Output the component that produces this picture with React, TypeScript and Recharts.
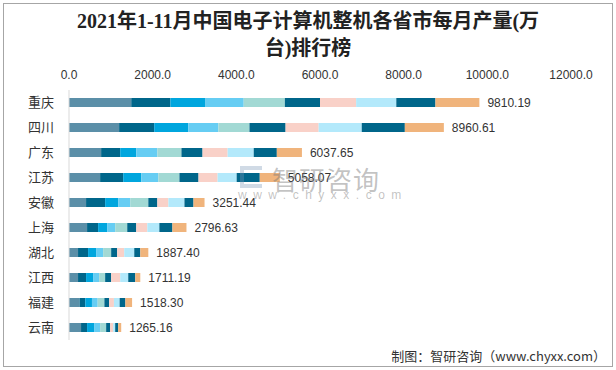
import React from "react";
import { BarChart, Bar, XAxis, YAxis } from "recharts";

// provinces, top to bottom
const provinces = ["重庆", "四川", "广东", "江苏", "安徽", "上海", "湖北", "江西", "福建", "云南"];

// monthly output (万台)
const m1to2 = [1488, 1198, 768, 744, 408, 432, 216, 216, 252, 288];
const m3 = [936, 839, 456, 552, 456, 264, 240, 192, 137, 144];
const m4 = [840, 815, 384, 432, 312, 216, 192, 168, 160, 168];
const m5 = [912, 719, 504, 408, 288, 192, 168, 144, 137, 144];
const m6 = [984, 743, 576, 504, 432, 288, 192, 144, 160, 144];
const m7 = [840, 863, 504, 456, 216, 216, 144, 144, 114, 96];
const m8 = [864, 791, 600, 456, 264, 264, 168, 216, 114, 72];
const m9 = [960, 1030, 624, 456, 384, 288, 240, 192, 137, 48];
const m10 = [936, 1030, 552, 552, 216, 312, 144, 168, 137, 72];
const m11 = [1050, 933, 600, 480, 264, 336, 192, 120, 160, 72];

// totals printed at the end of each bar
const totals = ["9810.19", "8960.61", "6037.65", "5058.07", "3251.44", "2796.63", "1887.40", "1711.19", "1518.30", "1265.16"];

const xTicks = [0, 2000, 4000, 6000, 8000, 10000, 12000];

const series = [m1to2, m3, m4, m5, m6, m7, m8, m9, m10, m11];
const colors = ["#5b8fa8", "#00668a", "#00a6de", "#66cdf3", "#a2d9d4", "#00668a", "#f9d1c8", "#b3e9fb", "#00668a", "#f0b47c"];

const data = provinces.map((name, i) => {
  const row: Record<string, string | number> = { name };
  series.forEach((s, k) => {
    row["m" + k] = s[i];
  });
  return row;
});

const numFont = "'Liberation Sans', Arial, sans-serif";
const cjkFont = "'Noto Sans CJK SC', sans-serif";

function TotalLabel(props: any) {
  const { x, y, width, height, index } = props;
  return (
    <text
      x={x + width + 8}
      y={y + height / 2}
      dy={4}
      fontSize={12}
      fill="#333"
      fontFamily={numFont}
    >
      {totals[index]}
    </text>
  );
}

export default function App() {
  return (
    <div style={{ position: "absolute", left: 0, top: 0, width: 616, height: 370, background: "#fff" }}>
      <div
        style={{
          position: "absolute",
          left: 3,
          top: 3,
          width: 608,
          height: 362,
          border: "1px solid #a6a6a6",
        }}
      />
      <div
        style={{
          position: "absolute",
          left: 30,
          top: 8,
          width: 556,
          textAlign: "center",
          fontFamily: "'Liberation Serif', 'Noto Sans CJK SC', serif",
          fontSize: 20,
          fontWeight: 600,
          lineHeight: "27px",
          color: "#222",
        }}
      >
        2021年1-11月中国电子计算机整机各省市每月产量(万
        <br />
        台)排行榜
      </div>
      <div style={{ position: "absolute", left: 0, top: 0 }}>
        <BarChart
          width={616}
          height={370}
          data={data}
          layout="vertical"
          margin={{ top: 70, right: 45, bottom: 30, left: 9 }}
          barSize={9}
        >
          <XAxis
            type="number"
            orientation="top"
            domain={[0, 12000]}
            ticks={xTicks}
            tickFormatter={(v: number) => v.toFixed(1)}
            axisLine={false}
            tickLine={false}
            tickSize={0}
            tickMargin={11}
            height={20}
            tick={{ fontSize: 12, fill: "#333", fontFamily: numFont }}
          />
          <YAxis
            type="category"
            dataKey="name"
            width={60}
            axisLine={{ stroke: "#d9d9d9" }}
            tickLine={false}
            tickSize={0}
            tickMargin={15}
            tick={{ fontSize: 13, fill: "#333", fontFamily: cjkFont }}
          />
          {series.map((_, k) => (
            <Bar
              key={k}
              dataKey={"m" + k}
              stackId="a"
              fill={colors[k]}
              isAnimationActive={false}
              label={k === series.length - 1 ? <TotalLabel /> : undefined}
            />
          ))}
        </BarChart>
      </div>
      <div
        style={{
          position: "absolute",
          left: 272,
          top: 160,
          fontFamily: cjkFont,
          fontSize: 26,
          color: "rgba(120,120,120,0.45)",
          letterSpacing: 1,
        }}
      >
        智研咨询
      </div>
      <div
        style={{
          position: "absolute",
          left: 238,
          top: 188,
          fontFamily: numFont,
          fontSize: 12,
          color: "rgba(120,120,120,0.45)",
          letterSpacing: 6.5,
        }}
      >
        www.chyxx.com
      </div>
      <div
        style={{
          position: "absolute",
          left: 240,
          top: 166,
          width: 22,
          height: 22,
          border: "4px solid rgba(120,150,180,0.35)",
          borderRight: "none",
          boxSizing: "border-box",
        }}
      />
      <div
        style={{
          position: "absolute",
          right: 10,
          top: 346,
          fontFamily: cjkFont,
          fontSize: 13,
          color: "#333",
        }}
      >
        制图：智研咨询（www.chyxx.com）
      </div>
    </div>
  );
}
